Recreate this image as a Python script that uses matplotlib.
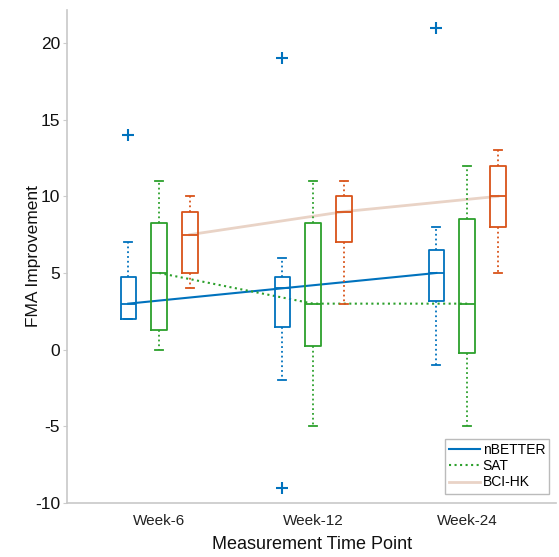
import numpy as np
import matplotlib
matplotlib.use("Agg")
import matplotlib.pyplot as plt

plt.rcParams["font.family"] = ["Liberation Sans", "DejaVu Sans"]
plt.rcParams["axes.unicode_minus"] = False

# ── Data ──────────────────────────────────────────────────
weeks = ["Week-6", "Week-12", "Week-24"]
groups = ["nBETTER", "SAT", "BCI-HK"]
colors = ["#0072BD", "#2CA02C", "#D95319"]
line_colors = ["#0072BD", "#2CA02C", "#E9D3C6"]

# per group, per week: whisker low, q1, median, q3, whisker high
nbetter_lo  = [2, -2, -1]
nbetter_q1  = [2, 1.5, 3.2]
nbetter_med = [3, 4, 5]
nbetter_q3  = [4.75, 4.75, 6.5]
nbetter_hi  = [7, 6, 8]
nbetter_fl  = [[14], [19, -9], [21]]

sat_lo  = [0, -5, -5]
sat_q1  = [1.25, 0.25, -0.25]
sat_med = [5, 3, 3]
sat_q3  = [8.25, 8.25, 8.5]
sat_hi  = [11, 11, 12]
sat_fl  = [[], [], []]

bci_lo  = [4, 3, 5]
bci_q1  = [5, 7, 8]
bci_med = [7.5, 9, 10]
bci_q3  = [9, 10, 12]
bci_hi  = [10, 11, 13]
bci_fl  = [[], [], []]

series = [
    (nbetter_lo, nbetter_q1, nbetter_med, nbetter_q3, nbetter_hi, nbetter_fl),
    (sat_lo, sat_q1, sat_med, sat_q3, sat_hi, sat_fl),
    (bci_lo, bci_q1, bci_med, bci_q3, bci_hi, bci_fl),
]

fig = plt.figure(figsize=(5.59, 5.57), dpi=100)
ax = fig.add_axes([0.12, 0.097, 0.875, 0.885])

base = np.arange(1, len(weeks) + 1)
offsets = [-0.2, 0.0, 0.2]
handles = []

for g, (lo, q1, med, q3, hi, fl) in enumerate(series):
    c = colors[g]
    stats = [dict(whislo=lo[i], q1=q1[i], med=med[i], q3=q3[i], whishi=hi[i],
                  fliers=fl[i]) for i in range(len(weeks))]
    pos = base + offsets[g]
    ax.bxp(stats, positions=pos, widths=0.1, showfliers=True,
           boxprops=dict(color=c, lw=1.3),
           medianprops=dict(color=c, lw=1.3),
           whiskerprops=dict(color=c, lw=1.3, ls=":"),
           capprops=dict(color=c, lw=1.3),
           flierprops=dict(marker="+", markeredgecolor=c, markersize=8, mew=1.5,
                           linestyle="none"),
           capwidths=0.05)
    ls = ":" if g == 1 else "-"
    h, = ax.plot(pos, med, color=line_colors[g], lw=1.5 if g != 2 else 2.0, ls=ls,
                 label=groups[g], zorder=1)
    handles.append(h)

ax.set_xlim(0.403, 3.578)
ax.set_ylim(-10, 22.15)
ax.set_yticks([-10, -5, 0, 5, 10, 15, 20])
ax.set_xticks(base)
ax.set_xticklabels(weeks, fontsize=11, color="#222222")
ax.tick_params(axis="y", labelsize=12.5, colors="#cccccc", labelcolor="#111111",
               direction="out", length=3, pad=2)
ax.tick_params(axis="x", length=0, pad=8)
for s in ["top", "right"]:
    ax.spines[s].set_visible(False)
for s in ["left", "bottom"]:
    ax.spines[s].set_color("#c8c8c8")
    ax.spines[s].set_linewidth(1.2)

ax.set_ylabel("FMA Improvement", fontsize=12.5, color="#111111", labelpad=-4)
ax.set_xlabel("Measurement Time Point", fontsize=13, color="#111111", labelpad=6)

leg = ax.legend(handles=handles, loc="lower right", fontsize=10, frameon=True,
                fancybox=False, edgecolor="#aaaaaa", handlelength=2.2,
                handletextpad=0.2, borderpad=0.3, labelspacing=0.15,
                bbox_to_anchor=(1.0, 0.005))
leg.get_frame().set_linewidth(1.0)

fig.savefig("out.png", dpi=100)
